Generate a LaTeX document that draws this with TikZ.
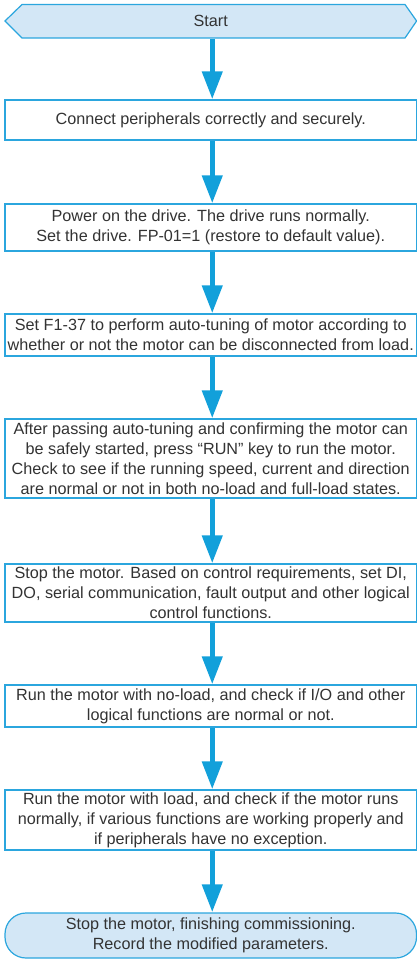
\documentclass[tikz,border=0pt]{standalone}
\usepackage{fontspec}
\setmainfont{Liberation Sans}
\usetikzlibrary{arrows.meta}
\definecolor{bordc}{HTML}{2BA6DE}
\definecolor{arrc}{HTML}{12A0DA}
\definecolor{fillc}{HTML}{D3E7F6}
\definecolor{txtc}{HTML}{333333}
\tikzset{
  stepbox/.style={draw=bordc, line width=1.2pt, fill=white, minimum width=411.5pt,
    inner sep=0pt, align=center, text=txtc, font=\fontsize{16.2}{20}\selectfont},
  flowarrow/.style={draw=arrc, line width=5.5pt,
    -{Triangle[width=19.5pt,length=28pt]}, shorten <=0.6pt}
}
\begin{document}
\begin{tikzpicture}[x=1pt,y=-1pt]
\useasboundingbox (0,0) rectangle (417,960);
% Start
\node[minimum width=411.5pt, minimum height=33.5pt, inner sep=0pt] (start) at (210.75,21.25) {};
\fill[fillc, draw=bordc, line width=1.2pt] (5,21) -- (22,4.5) -- (405,4.5) -- (416.6,21) -- (405,38) -- (22,38) -- cycle;
\node[text=txtc, font=\fontsize{16.2}{20}\selectfont] at (start.center) {Start};
% boxes
\node[stepbox, minimum height=40pt] (b1) at (210.75,120) {Connect peripherals correctly and securely.};
\node[stepbox, minimum height=47pt] (b2) at (210.75,227.5) {Power on the drive. The drive runs normally.\\Set the drive. FP-01=1 (restore to default value).};
\node[stepbox, minimum height=42pt] (b3) at (210.75,335) {Set F1-37 to perform auto-tuning of motor according to\\whether or not the motor can be disconnected from load.};
\node[stepbox, minimum height=79pt] (b4) at (210.75,458.5) {After passing auto-tuning and confirming the motor can\\be safely started, press “RUN” key to run the motor.\\Check to see if the running speed, current and direction\\are normal or not in both no-load and full-load states.};
\node[stepbox, minimum height=58pt] (b5) at (210.75,593) {Stop the motor. Based on control requirements, set DI,\\DO, serial communication, fault output and other logical\\control functions.};
\node[stepbox, minimum height=42pt] (b6) at (210.75,706) {Run the motor with no-load, and check if I/O and other\\logical functions are normal or not.};
\node[stepbox, minimum height=60pt] (b7) at (210.75,820) {Run the motor with load, and check if the motor runs\\normally, if various functions are working properly and\\if peripherals have no exception.};
\node[stepbox, fill=fillc, rounded corners=21pt, minimum height=45pt] (end) at (210.75,935.5) {Stop the motor, finishing commissioning.\\Record the modified parameters.};
% arrows
\foreach \a/\b in {start/b1,b1/b2,b2/b3,b3/b4,b4/b5,b5/b6,b6/b7,b7/end}{
  \draw[flowarrow] ([xshift=1.5pt]\a.south) -- ([xshift=1.5pt]\b.north);
}
\end{tikzpicture}
\end{document}
